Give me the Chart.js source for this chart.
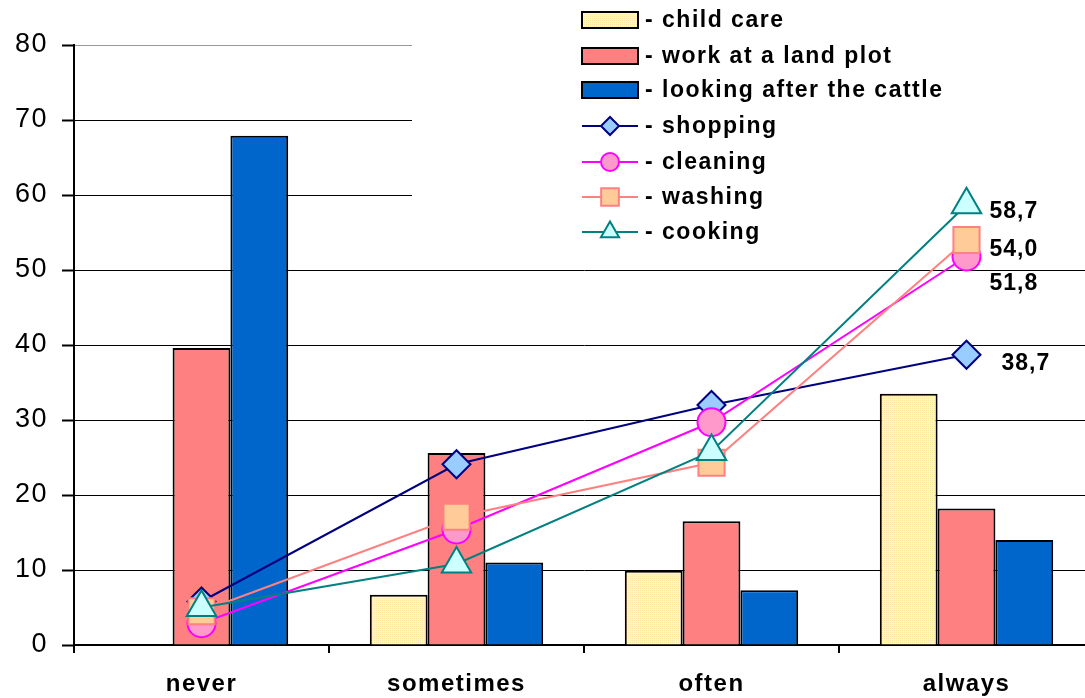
<!DOCTYPE html>
<html>
<head>
<meta charset="utf-8">
<script src="https://cdn.jsdelivr.net/npm/chart.js@4.4.1/dist/chart.umd.min.js"></script>
<style>
  html, body { margin: 0; padding: 0; background: #fff; overflow: hidden; }
  #wrap { width: 1095px; height: 698px; }
</style>
</head>
<body>
<div id="wrap"><canvas id="chart" width="1095" height="698"></canvas></div>
<script>
// categories and values
const categories = ['never', 'sometimes', 'often', 'always'];
const yTicks = [0, 10, 20, 30, 40, 50, 60, 70, 80];

const childCare = [0, 6.7, 9.9, 33.5];
const landPlot = [39.6, 25.6, 16.5, 18.2];
const cattle = [67.9, 11.0, 7.3, 14.0];

const shopping = [5.8, 24.1, 32.0, 38.7];
const cleaning = [2.9, 15.4, 29.7, 51.8];
const washing = [4.5, 17.1, 24.3, 54.0];
const cooking = [5.0, 10.8, 25.8, 58.7];

const FONT = "'Liberation Sans', Arial, sans-serif";

// pale yellow dotted fill for child care
function makePattern() {
  const c = document.createElement('canvas');
  c.width = 4; c.height = 4;
  const g = c.getContext('2d');
  g.fillStyle = '#FFF6D0';
  g.fillRect(0, 0, 4, 4);
  g.fillStyle = '#FFE8A4';
  g.fillRect(0, 0, 1, 1);
  g.fillRect(2, 2, 1, 1);
  g.fillRect(2, 0, 1, 1);
  g.fillRect(0, 2, 1, 1);
  return g.createPattern(c, 'repeat');
}
const childFill = makePattern();

function lineSet(label, data, line, fill, style, radius, order) {
  return {
    type: 'line',
    label: label,
    data: data,
    borderColor: line,
    borderWidth: 2,
    pointStyle: style,
    pointRadius: radius,
    pointBackgroundColor: fill,
    pointBorderColor: line,
    pointBorderWidth: 2,
    tension: 0,
    order: order
  };
}

// wider letter spacing for the axis text, like the original
const spacing = {
  id: 'spacing',
  beforeDraw(chart) { chart.ctx.letterSpacing = '1.5px'; },
  afterDraw(chart) { chart.ctx.letterSpacing = '0px'; }
};

// white box behind the legend (hides the grid there)
const legendBack = {
  id: 'legendBack',
  beforeDatasetsDraw(chart) {
    const ctx = chart.ctx;
    ctx.save();
    ctx.fillStyle = '#fff';
    ctx.fillRect(412, 0, chart.width - 412, 250);
    ctx.restore();
  }
};

// value labels on the last point of each line
const endLabels = {
  id: 'endLabels',
  afterDatasetsDraw(chart) {
    const ctx = chart.ctx;
    const offsets = { shopping: [35, 9], cleaning: [23, 27], washing: [23, 10], cooking: [23, 7] };
    ctx.save();
    ctx.font = 'bold 23px ' + FONT;
    ctx.letterSpacing = '1px';
    ctx.fillStyle = '#000';
    ctx.textBaseline = 'middle';
    ctx.textAlign = 'left';
    chart.data.datasets.forEach((ds, i) => {
      if (ds.type !== 'line') return;
      const meta = chart.getDatasetMeta(i);
      const last = ds.data.length - 1;
      const pt = meta.data[last];
      const off = offsets[ds.label];
      ctx.fillText(ds.data[last].toFixed(1).replace('.', ','), pt.x + off[0], pt.y + off[1]);
    });
    ctx.restore();
  }
};

// legend drawn by hand, top right
const sideLegend = {
  id: 'sideLegend',
  afterDraw(chart) {
    const ctx = chart.ctx;
    const x0 = 582, w = 56, tx = 645;
    const rows = [20, 56, 90, 126, 162, 197, 232];
    const markR = { rectRot: 9, circle: 9, rect: 12.5, triangle: 10.5 };
    ctx.save();
    ctx.font = 'bold 23px ' + FONT;
    ctx.letterSpacing = '1.5px';
    ctx.textBaseline = 'middle';
    chart.data.datasets.forEach((ds, i) => {
      const y = rows[i];
      if (ds.type === 'line') {
        ctx.strokeStyle = ds.borderColor;
        ctx.lineWidth = 2;
        ctx.beginPath();
        ctx.moveTo(x0, y);
        ctx.lineTo(x0 + w, y);
        ctx.stroke();
        ctx.fillStyle = ds.pointBackgroundColor;
        Chart.helpers.drawPoint(ctx, {
          pointStyle: ds.pointStyle,
          radius: markR[ds.pointStyle],
          borderWidth: 2,
          rotation: 0
        }, x0 + w / 2, y);
      } else {
        ctx.fillStyle = ds.backgroundColor;
        ctx.fillRect(x0, y - 8, w, 16);
        ctx.strokeStyle = '#000';
        ctx.lineWidth = 2;
        ctx.strokeRect(x0, y - 8, w, 16);
      }
      ctx.fillStyle = '#000';
      ctx.fillText('- ' + ds.label, tx, y + 1);
    });
    ctx.restore();
  }
};

new Chart(document.getElementById('chart'), {
  type: 'bar',
  data: {
    labels: categories,
    datasets: [
      { label: 'child care', data: childCare, backgroundColor: childFill, borderColor: '#000', borderWidth: 2, order: 10 },
      { label: 'work at a land plot', data: landPlot, backgroundColor: '#FF8080', borderColor: '#000', borderWidth: 2, order: 10 },
      { label: 'looking after the cattle', data: cattle, backgroundColor: '#0066CC', borderColor: '#000', borderWidth: 2, order: 10 },
      lineSet('shopping', shopping, '#000080', '#99CCFF', 'rectRot', 14, 4),
      lineSet('cleaning', cleaning, '#FF00FF', '#FF99CC', 'circle', 14, 3),
      lineSet('washing', washing, '#FF8080', '#FFCC99', 'rect', 18.5, 2),
      lineSet('cooking', cooking, '#008080', '#CCFFFF', 'triangle', 17, 1)
    ]
  },
  options: {
    responsive: false,
    animation: false,
    devicePixelRatio: 1,
    layout: { autoPadding: false, padding: { top: 45, right: 1, left: 0, bottom: 0 } },
    plugins: {
      legend: { display: false },
      tooltip: { enabled: false }
    },
    datasets: {
      bar: { categoryPercentage: 0.68, barPercentage: 1 }
    },
    scales: {
      x: {
        offset: true,
        grid: { drawOnChartArea: false, drawTicks: true, tickLength: 8, color: '#000', lineWidth: 2, offset: true },
        border: { color: '#000', width: 2 },
        ticks: { color: '#000', font: { family: FONT, size: 24, weight: 'bold' }, padding: 17, maxRotation: 0 },
        afterFit(scale) {
          scale.height = 53;
          scale.paddingLeft = 0;
          scale.paddingRight = 0;
        }
      },
      y: {
        min: 0,
        max: 80,
        afterBuildTicks(scale) { scale.ticks = yTicks.map(v => ({ value: v })); },
        grid: {
          color: (c) => (c.tick && c.tick.value === 80 ? '#999' : '#000'),
          lineWidth: 1,
          tickLength: 12,
          tickColor: '#000',
          tickWidth: 2
        },
        border: { color: '#000', width: 2 },
        ticks: { color: '#000', font: { family: FONT, size: 27 }, padding: 14 },
        afterFit(scale) { scale.width = 74; }
      }
    }
  },
  plugins: [spacing, legendBack, endLabels, sideLegend]
});
</script>
</body>
</html>
